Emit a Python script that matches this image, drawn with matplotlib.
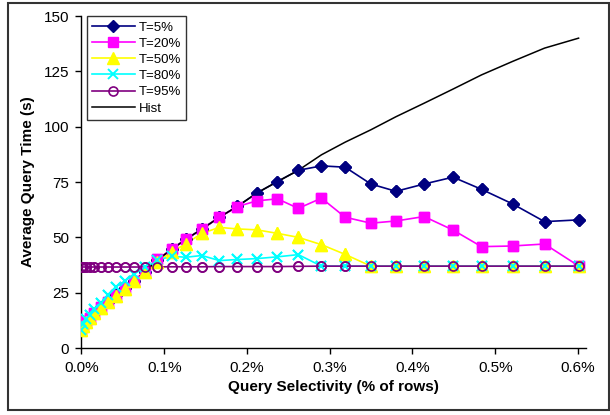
import matplotlib
matplotlib.use("Agg")
import matplotlib.pyplot as plt
from matplotlib.patches import Rectangle
from matplotlib.ticker import FixedLocator, FuncFormatter

plt.rcParams["font.family"] = ["Liberation Sans", "DejaVu Sans"]

# selectivity (% of rows) shared by every series
selectivity = [0.0, 0.002, 0.006, 0.010, 0.015, 0.0236, 0.0317, 0.0417, 0.053, 0.0638,
               0.0771, 0.0917, 0.109, 0.126, 0.1453, 0.1667, 0.1884, 0.2118, 0.2368, 0.262,
               0.290, 0.3186, 0.3497, 0.380, 0.414, 0.449, 0.4834, 0.521, 0.5596, 0.6007]

hist = [8.5, 10.5, 12.0, 13.7, 15.8, 18.5, 21.0, 24.0, 27.2, 30.5,
        34.5, 39.8, 44.6, 49.1, 53.7, 59.1, 64.0, 70.0, 75.2, 80.3,
        87.3, 93.0, 98.6, 104.5, 110.6, 117.0, 123.4, 129.5, 135.5, 140.0]

t5 = [8.5, 10.5, 12.0, 13.7, 15.8, 18.5, 21.0, 24.0, 27.2, 30.5,
      34.5, 39.8, 44.6, 49.1, 53.7, 59.1, 64.0, 70.0, 75.2, 80.3,
      82.3, 81.7, 74.1, 70.8, 74.1, 77.2, 71.7, 65.1, 57.1, 57.9]

t20 = [8.5, 10.5, 12.0, 13.7, 15.8, 18.5, 21.0, 24.0, 27.2, 30.5,
       34.5, 40.1, 44.6, 49.1, 53.7, 59.1, 63.9, 66.5, 67.4, 63.1,
       67.7, 59.1, 56.4, 57.4, 59.4, 53.3, 45.8, 46.1, 47.0, 37.1]

t50 = [8.3, 10.0, 11.9, 13.7, 15.6, 18.2, 20.6, 23.5, 26.8, 30.2,
       34.2, 39.0, 43.5, 47.0, 51.8, 54.5, 53.8, 53.4, 51.8, 50.0,
       46.7, 42.3, 37.0, 37.0, 37.0, 37.0, 37.0, 37.0, 37.0, 37.1]

t80 = [8.1, 11.0, 13.0, 15.0, 17.5, 20.5, 24.0, 27.7, 30.5, 33.5,
       36.5, 39.6, 41.5, 41.0, 41.8, 39.5, 40.0, 40.4, 41.2, 42.2,
       37.0, 37.0, 37.0, 37.0, 37.0, 37.0, 37.0, 37.0, 37.0, 37.1]

t95 = [36.6, 36.6, 36.6, 36.6, 36.6, 36.6, 36.6, 36.6, 36.6, 36.6,
       36.6, 36.7, 36.7, 36.7, 36.7, 36.8, 36.8, 36.8, 36.8, 36.9,
       37.0, 37.0, 37.0, 37.0, 37.0, 37.0, 37.0, 37.0, 37.0, 37.0]

x_ticks = [0.0, 0.1, 0.2, 0.3, 0.4, 0.5, 0.6]
y_ticks = [0, 25, 50, 75, 100, 125, 150]

series = [
    ("T=5%", t5, dict(color="#000080", marker="D", ms=6, mec="#000080")),
    ("T=20%", t20, dict(color="#FF00FF", marker="s", ms=7.5, mec="#FF00FF")),
    ("T=50%", t50, dict(color="#FFFF00", marker="^", ms=8, mec="#FFFF00")),
    ("T=80%", t80, dict(color="#00FFFF", marker="x", ms=7.5, mew=1.4)),
    ("T=95%", t95, dict(color="#800080", marker="o", ms=6.5, mfc="none", mew=1.2)),
]

fig = plt.figure(figsize=(6.1, 4.15), dpi=100)
ax = fig.add_axes([0.1336, 0.1614, 0.8271, 0.8000])

# lines sit underneath, the Hist curve over them, markers on top of everything
for i, (name, vals, style) in enumerate(series):
    ax.plot(selectivity, vals, lw=1.2, label=name, zorder=2 + i * 0.01, **style)
ax.plot(selectivity, hist, color="black", lw=1.1, label="Hist", zorder=3)
for i, (name, vals, style) in enumerate(series):
    ax.plot(selectivity, vals, ls="none", zorder=4 + i * 0.01, **style)

ax.set_xlim(0, 0.6097)
ax.set_ylim(0, 150)
ax.xaxis.set_major_locator(FixedLocator(x_ticks))
ax.yaxis.set_major_locator(FixedLocator(y_ticks))
ax.xaxis.set_major_formatter(FuncFormatter(lambda v, _: f"{v:.1f}%"))
ax.tick_params(direction="out", length=4, width=1, labelsize=11, pad=5)

for side in ("top", "right"):
    ax.spines[side].set_visible(False)
for side in ("left", "bottom"):
    ax.spines[side].set_linewidth(1.0)

ax.set_xlabel("Query Selectivity (% of rows)", fontsize=11, fontweight="bold", labelpad=4)
ax.set_ylabel("Average Query Time (s)", fontsize=11, fontweight="bold", labelpad=6)

leg = ax.legend(loc="upper left", bbox_to_anchor=(0.011, 1.0), fontsize=9.5,
                frameon=True, fancybox=False, edgecolor="black", handlelength=3.2,
                handletextpad=0.3, labelspacing=0.3, borderpad=0.4, borderaxespad=0.0)
leg.get_frame().set_linewidth(1.0)
leg.set_zorder(10)

# thin frame around the whole figure
fig.patches.append(Rectangle((0.013, 0.012), 0.985, 0.981, transform=fig.transFigure,
                             fill=False, edgecolor="#333333", linewidth=1.5))

fig.savefig("out.png", dpi=100)
